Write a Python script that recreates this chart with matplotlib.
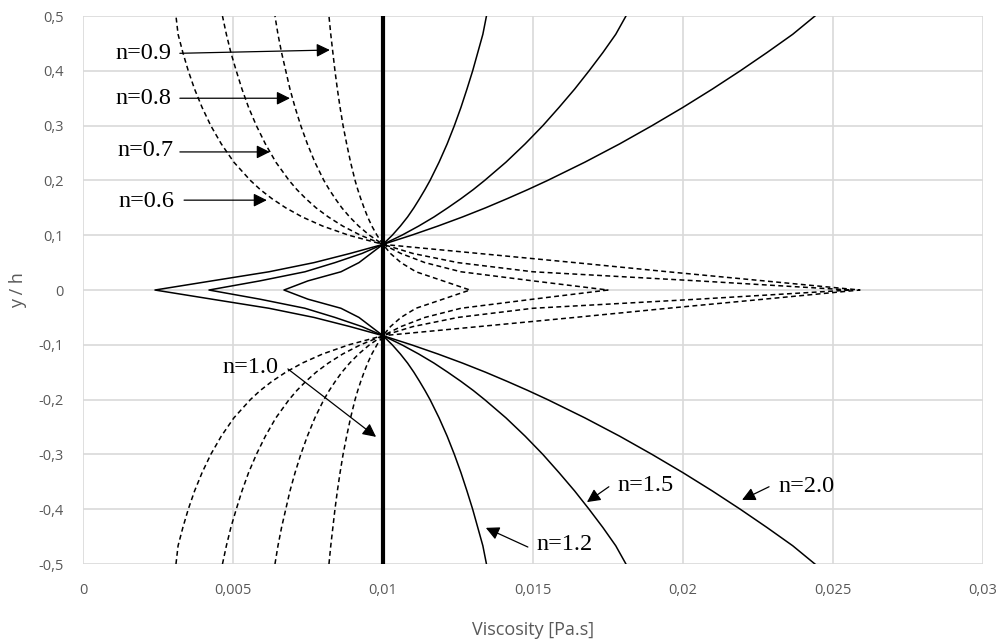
import numpy as np
import matplotlib
matplotlib.use("Agg")
import matplotlib.pyplot as plt

# half profile (y >= 0), mirrored below the centreline
y_half = [0, 0.0167, 0.0333, 0.05, 0.0667, 0.0833, 0.1, 0.1167, 0.1333, 0.15, 0.1667, 0.1833,
          0.2, 0.2333, 0.2667, 0.3, 0.3333, 0.3667, 0.4, 0.4333, 0.4667, 0.5]

visc_n06 = [0.0259, 0.0227, 0.0195, 0.0164, 0.0132, 0.0100, 0.00886, 0.00799, 0.00731, 0.00676,
            0.0063, 0.00591, 0.00558, 0.00503, 0.00461, 0.00426, 0.00397, 0.00372, 0.00351,
            0.00333, 0.00317, 0.0031]
visc_n07 = [0.0256, 0.0205, 0.0150, 0.0125, 0.0110, 0.0100, 0.00925, 0.00866, 0.00818, 0.00777,
            0.00743, 0.00713, 0.00687, 0.00643, 0.00608, 0.00578, 0.00552, 0.0053, 0.00511,
            0.00493, 0.00478, 0.00465]
visc_n08 = [0.0175, 0.0150, 0.0126, 0.0114, 0.0106, 0.0100, 0.00955, 0.00919, 0.00889, 0.00863,
            0.00841, 0.00821, 0.00803, 0.00773, 0.00748, 0.00726, 0.00707, 0.0069, 0.00676,
            0.00662, 0.0065, 0.0064]
visc_n09 = [0.0129, 0.0120, 0.0111, 0.0106, 0.01025, 0.0100, 0.0098, 0.00963, 0.00949, 0.00937,
            0.00926, 0.00916, 0.00907, 0.00892, 0.00879, 0.00867, 0.00857, 0.00848, 0.0084,
            0.00833, 0.00826, 0.0082]
visc_n10 = [0.01] * 22
visc_n12 = [0.0067, 0.0075, 0.0086, 0.0092, 0.0096, 0.0100, 0.01031, 0.01058, 0.01082, 0.01103,
            0.01122, 0.0114, 0.01157, 0.01187, 0.01214, 0.01238, 0.0126, 0.0128, 0.01299,
            0.01316, 0.01333, 0.01345]
visc_n15 = [0.0042, 0.0059, 0.0074, 0.0084, 0.0093, 0.0100, 0.01063, 0.01119, 0.0117, 0.01216,
            0.0126, 0.01301, 0.01339, 0.0141, 0.01474, 0.01533, 0.01587, 0.01639, 0.01687,
            0.01733, 0.01776, 0.0181]
visc_n20 = [0.0024, 0.0043, 0.0062, 0.0077, 0.0089, 0.0100, 0.01095, 0.01183, 0.01265, 0.01342,
            0.01414, 0.01483, 0.01549, 0.01673, 0.01789, 0.01897, 0.0200, 0.02098, 0.02191,
            0.02280, 0.02366, 0.0244]

x_ticks = [0, 0.005, 0.01, 0.015, 0.02, 0.025, 0.03]
x_labels = ["0", "0,005", "0,01", "0,015", "0,02", "0,025", "0,03"]
y_ticks = [0.5, 0.4, 0.3, 0.2, 0.1, 0, -0.1, -0.2, -0.3, -0.4, -0.5]
y_labels = ["0,5", "0,4", "0,3", "0,2", "0,1", "0", "-0,1", "-0,2", "-0,3", "-0,4", "-0,5"]

# label text, text position, arrow start, arrow tip
notes = [
    ("n=0.9", (0.00202, 0.432), (0.00323, 0.432), (0.00823, 0.438)),
    ("n=0.8", (0.00202, 0.349), (0.00323, 0.350), (0.00690, 0.350)),
    ("n=0.7", (0.00207, 0.254), (0.00323, 0.252), (0.00623, 0.252)),
    ("n=0.6", (0.00213, 0.162), (0.00337, 0.164), (0.00613, 0.164)),
    ("n=1.0", (0.00557, -0.141), (0.00683, -0.144), (0.00977, -0.268)),
    ("n=1.5", (0.01877, -0.356), (0.01753, -0.359), (0.01680, -0.387)),
    ("n=2.0", (0.02413, -0.358), (0.02287, -0.359), (0.02197, -0.383)),
    ("n=1.2", (0.01607, -0.465), (0.01483, -0.469), (0.01343, -0.434)),
]


def full(v):
    v = np.asarray(v)
    return np.concatenate([v[::-1], v[1:]])


yh = np.asarray(y_half)
y = np.concatenate([-yh[::-1], yh[1:]])

fig = plt.figure(figsize=(10.07, 6.44), dpi=100)
ax = fig.add_axes([0.0824, 0.1242, 0.8937, 0.8509])

for v in [visc_n06, visc_n07, visc_n08, visc_n09]:
    ax.plot(full(v), y, color="black", lw=1.1, ls=(0, (3.2, 2.2)), zorder=3)
for v in [visc_n12, visc_n15, visc_n20]:
    ax.plot(full(v), y, color="black", lw=1.1, zorder=3)
ax.plot(full(visc_n10), y, color="black", lw=3.0, zorder=4)

for txt, tpos, start, tip in notes:
    ax.text(tpos[0], tpos[1], txt, family="Liberation Serif", fontsize=17.5,
            ha="center", va="center", zorder=5)
    ax.annotate("", xy=tip, xytext=start,
                arrowprops=dict(arrowstyle="-|>", color="black", lw=0.9,
                                mutation_scale=20, shrinkA=0, shrinkB=0), zorder=5)

ax.set_xlim(0, 0.03)
ax.set_ylim(-0.5, 0.5)
ax.set_xticks(x_ticks)
ax.set_xticklabels(x_labels)
ax.set_yticks(y_ticks)
ax.set_yticklabels(y_labels)
ax.grid(True, color="#d9d9d9", lw=1.2, zorder=0)
ax.set_axisbelow(True)
for s in ax.spines.values():
    s.set_visible(False)
ax.tick_params(length=0, labelsize=10.5, labelcolor="#595959")
ax.tick_params(axis="x", pad=14)
ax.tick_params(axis="y", pad=14)
for lab in ax.get_xticklabels() + ax.get_yticklabels():
    lab.set_family("Open Sans")

ax.set_xlabel("Viscosity [Pa.s]", family="Open Sans", fontsize=13, color="#595959", labelpad=16)
ax.set_ylabel("y / h", family="Open Sans", fontsize=13, color="#595959", labelpad=8)

fig.savefig("out.png", dpi=100)
